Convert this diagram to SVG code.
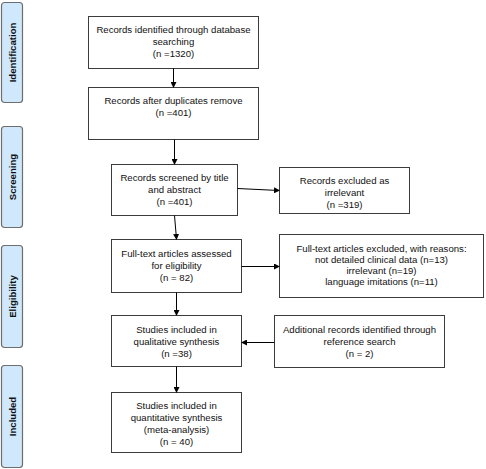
<svg xmlns="http://www.w3.org/2000/svg" width="486" height="469" viewBox="0 0 486 469">
<defs>
<marker id="ah" markerWidth="6" markerHeight="6" refX="5" refY="3" orient="auto" markerUnits="userSpaceOnUse">
<path d="M0,0 L6,3 L0,6 Z" fill="#000"/>
</marker>
</defs>
<style>
.box{fill:#fff;stroke:#3c3c3c;stroke-width:1}
.lab{fill:#cfe8fc;stroke:#6e6e6e;stroke-width:1.2}
.t{font-family:"Liberation Sans",Arial,sans-serif;font-size:9.6px;fill:#111;text-anchor:middle}
.lt{font-family:"Liberation Sans",Arial,sans-serif;font-size:9.6px;font-weight:bold;fill:#111;text-anchor:middle}
.c{stroke:#000;stroke-width:1;fill:none;marker-end:url(#ah)}
</style>
<rect width="486" height="469" fill="#fff"/>
<g id="stage-identification"><rect class="lab" x="1.5" y="2.5" width="21" height="100" rx="3"/><text class="lt" transform="translate(15.5,52.5) rotate(-90)">Identification</text></g>
<g id="stage-screening"><rect class="lab" x="1.5" y="126.5" width="21" height="101" rx="3"/><text class="lt" transform="translate(15.5,177) rotate(-90)">Screening</text></g>
<g id="stage-eligibility"><rect class="lab" x="1.5" y="245.5" width="21" height="102" rx="3"/><text class="lt" transform="translate(15.5,296.5) rotate(-90)">Eligibility</text></g>
<g id="stage-included"><rect class="lab" x="1.5" y="365.5" width="21" height="102" rx="3"/><text class="lt" transform="translate(15.5,416.5) rotate(-90)">Included</text></g>

<g id="n1"><rect class="box" x="88.5" y="16.5" width="170" height="52"/><text class="t"><tspan x="173.5" y="33">Records identified through database</tspan><tspan x="173.5" y="45">searching</tspan><tspan x="173.5" y="57">(n =1320)</tspan></text></g>
<g id="n2"><rect class="box" x="88.5" y="87.5" width="170" height="52"/><text class="t"><tspan x="173.5" y="104">Records after duplicates remove</tspan><tspan x="173.5" y="116">(n =401)</tspan></text></g>
<g id="n3"><rect class="box" x="111.5" y="164.5" width="126" height="51"/><text class="t"><tspan x="174.5" y="181">Records screened by title</tspan><tspan x="174.5" y="193">and abstract</tspan><tspan x="174.5" y="205">(n =401)</tspan></text></g>
<g id="n4"><rect class="box" x="111.5" y="239.5" width="130" height="53"/><text class="t"><tspan x="176.5" y="257">Full-text articles assessed</tspan><tspan x="176.5" y="269">for eligibility</tspan><tspan x="176.5" y="281">(n = 82)</tspan></text></g>
<g id="n5"><rect class="box" x="111.5" y="315.5" width="130" height="51"/><text class="t"><tspan x="176.5" y="333">Studies included in</tspan><tspan x="176.5" y="345">qualitative synthesis</tspan><tspan x="176.5" y="357">(n =38)</tspan></text></g>
<g id="n6"><rect class="box" x="111.5" y="392.5" width="130" height="60"/><text class="t"><tspan x="176.5" y="409">Studies included in</tspan><tspan x="176.5" y="421">quantitative synthesis</tspan><tspan x="176.5" y="433">(meta-analysis)</tspan><tspan x="176.5" y="445">(n = 40)</tspan></text></g>
<g id="r1"><rect class="box" x="279.5" y="167.5" width="130" height="46"/><text class="t"><tspan x="344.5" y="184">Records excluded as</tspan><tspan x="344.5" y="196">irrelevant</tspan><tspan x="344.5" y="208">(n =319)</tspan></text></g>
<g id="r2"><rect class="box" x="279.5" y="234.5" width="204" height="63"/><text class="t"><tspan x="381.5" y="252">Full-text articles excluded, with reasons:</tspan><tspan x="381.5" y="263">not detailed clinical data (n=13)</tspan><tspan x="381.5" y="274">irrelevant (n=19)</tspan><tspan x="381.5" y="285">language imitations (n=11)</tspan></text></g>
<g id="r3"><rect class="box" x="274.5" y="315.5" width="170" height="52"/><text class="t"><tspan x="359.5" y="333">Additional records identified through</tspan><tspan x="359.5" y="345">reference search</tspan><tspan x="359.5" y="357">(n = 2)</tspan></text></g>

<g id="connectors">
<line class="c" x1="173.5" y1="68.5" x2="173.5" y2="87"/>
<line class="c" x1="174.5" y1="139.5" x2="174.5" y2="164"/>
<line class="c" x1="174.5" y1="215.5" x2="176.5" y2="239"/>
<line class="c" x1="176.5" y1="292.5" x2="176.5" y2="315"/>
<line class="c" x1="176.5" y1="366.5" x2="176.5" y2="392"/>
<line class="c" x1="237.5" y1="188.5" x2="279" y2="190.5"/>
<line class="c" x1="241.5" y1="266.5" x2="279" y2="266.5"/>
<line class="c" x1="274.5" y1="342.5" x2="242" y2="342.5"/>
</g>
</svg>
